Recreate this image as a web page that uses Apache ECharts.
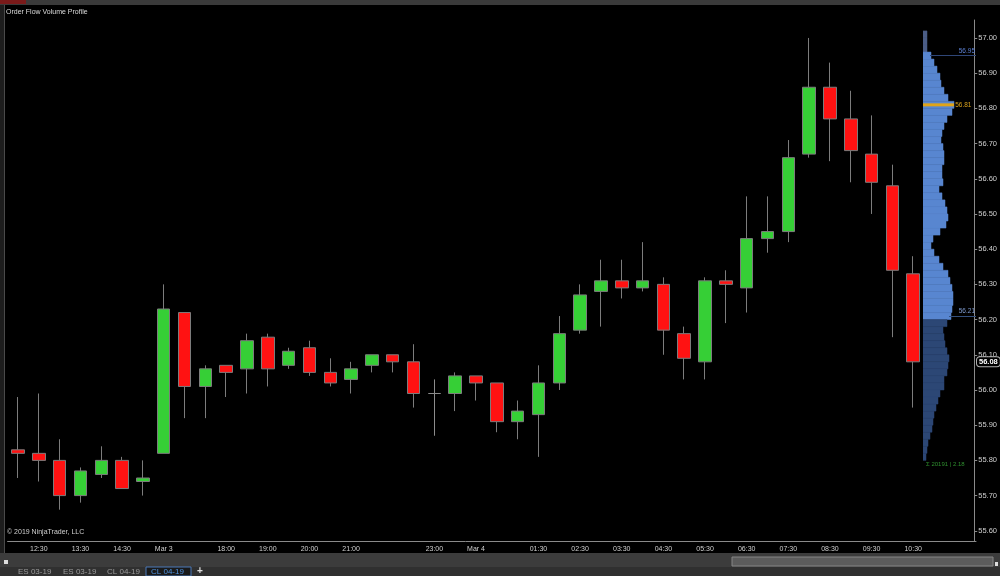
<!DOCTYPE html>
<html>
<head>
<meta charset="utf-8">
<script src="https://cdn.jsdelivr.net/npm/echarts@6/dist/echarts.min.js"></script>
<style>
html,body{margin:0;padding:0;background:#000;}
#chart{width:1000px;height:576px;}
</style>
</head>
<body>
<div id="chart"></div>
<script>
// ---- data ----
const categories = ['12:00','12:30','13:00','13:30','14:00','14:30','15:00','Mar 3','17:00','17:30',
  '18:00','18:30','19:00','19:30','20:00','20:30','21:00','21:30','22:00','22:30',
  '23:00','23:30','Mar 4','00:30','01:00','01:30','02:00','02:30','03:00','03:30',
  '04:00','04:30','05:00','05:30','06:00','06:30','07:00','07:30','08:00','08:30',
  '09:00','09:30','10:00','10:30'];
const opens  = [55.83,55.82,55.80,55.70,55.76,55.80,55.74,55.82,56.22,56.01,
  56.07,56.06,56.15,56.07,56.12,56.05,56.03,56.07,56.10,56.08,
  55.99,55.99,56.04,56.02,55.91,55.93,56.02,56.17,56.28,56.31,
  56.29,56.30,56.16,56.08,56.31,56.29,56.43,56.45,56.67,56.86,
  56.77,56.67,56.58,56.33];
const closes = [55.82,55.80,55.70,55.77,55.80,55.72,55.75,56.23,56.01,56.06,
  56.05,56.14,56.06,56.11,56.05,56.02,56.06,56.10,56.08,55.99,
  55.99,56.04,56.02,55.91,55.94,56.02,56.16,56.27,56.31,56.29,
  56.31,56.17,56.09,56.31,56.30,56.43,56.45,56.66,56.86,56.77,
  56.68,56.59,56.34,56.08];
const lows   = [55.75,55.74,55.66,55.68,55.75,55.72,55.70,55.82,55.92,55.92,
  55.98,55.99,56.01,56.06,56.04,56.01,55.99,56.05,56.05,55.95,
  55.87,55.94,55.97,55.88,55.86,55.81,56.00,56.16,56.18,56.26,
  56.28,56.10,56.03,56.03,56.19,56.22,56.39,56.42,56.66,56.65,
  56.59,56.50,56.15,55.95];
const highs  = [55.98,55.99,55.86,55.78,55.84,55.81,55.80,56.30,56.22,56.07,
  56.07,56.16,56.16,56.12,56.14,56.09,56.08,56.10,56.10,56.13,
  56.03,56.05,56.04,56.02,55.97,56.07,56.21,56.30,56.37,56.37,
  56.42,56.32,56.18,56.32,56.34,56.55,56.55,56.71,57.00,56.93,
  56.85,56.78,56.64,56.38];
const shownLabels = ['12:30','13:30','14:30','Mar 3','18:00','19:00','20:00','21:00','23:00','Mar 4',
  '01:30','02:30','03:30','04:30','05:30','06:30','07:30','08:30','09:30','10:30'];
const extraTicks = ['17:00','00:30'];

const profilePrices = [57.01,56.99,56.97,56.95,56.93,56.91,56.89,56.87,56.85,56.83,
  56.81,56.79,56.77,56.75,56.73,56.71,56.69,56.67,56.65,56.63,
  56.61,56.59,56.57,56.55,56.53,56.51,56.49,56.47,56.45,56.43,
  56.41,56.39,56.37,56.35,56.33,56.31,56.29,56.27,56.25,56.23,
  56.21,56.19,56.17,56.15,56.13,56.11,56.09,56.07,56.05,56.03,
  56.01,55.99,55.97,55.95,55.93,55.91,55.89,55.87,55.85,55.83,55.81];
const profileVolumes = [4,4,4,8,11,14,17,18,21,25,
  31,29,24,21,19,18,20,21,21,19,
  19,20,16,19,22,24,25,23,17,10,
  8,11,16,20,25,27,29,30,30,29,
  28,24,20,21,22,24,26,25,24,21,
  21,17,15,13,11,10,9,7,5,4,3];
const valueAreaHigh = 56.95;
const pocPrice = 56.81;
const valueAreaLow = 56.21;
const lastPrice = 56.08;
const profileFooter = 'Σ 20191 | 2.18';

// ---- chart ----
const yMin = 55.571, yMax = 57.051;
const FONT = 'Liberation Sans, Arial, sans-serif';
const chart = echarts.init(document.getElementById('chart'), null, {renderer:'canvas'});
const candleData = categories.map((c, i) => [opens[i], closes[i], lows[i], highs[i]]);
const profileData = profilePrices.map((p, i) => [profileVolumes[i], p]);
const NOLINE = {color: 'rgba(0,0,0,0)', width: 0};

function profileColor(p) {
  if (p > valueAreaHigh + 1e-9) return '#4b5d86';
  if (p >= valueAreaLow - 1e-9) return '#5886d0';
  return '#2c4775';
}

const option = {
  backgroundColor: '#000',
  animation: false,
  grid: [
    {left: 7.6, right: 74.6, top: 20, bottom: 35},
    {left: 923, right: 24, top: 20, bottom: 35}
  ],
  xAxis: [
    {
      type: 'category', gridIndex: 0, data: categories, boundaryGap: true,
      axisLine: {lineStyle: {color: '#8a8a8a', width: 1}},
      axisTick: {alignWithLabel: true, length: 3, lineStyle: {color: '#8a8a8a'},
        interval: (i, v) => shownLabels.includes(v) || extraTicks.includes(v)},
      axisLabel: {interval: (i, v) => shownLabels.includes(v), color: '#cfcfcf', fontSize: 7,
        fontFamily: FONT, margin: 5},
      splitLine: {show: false}
    },
    {
      type: 'value', gridIndex: 1, min: 0, max: 53,
      axisLine: {show: true, onZero: false, lineStyle: {color: '#8a8a8a', width: 1}},
      axisTick: {show: false}, axisLabel: {show: false}, splitLine: {show: false}
    }
  ],
  yAxis: [
    {
      type: 'value', gridIndex: 0, position: 'right', offset: 50.6,
      min: yMin, max: yMax, minInterval: 0.1, maxInterval: 0.1,
      axisLine: {show: true, lineStyle: {color: '#8a8a8a', width: 1}},
      axisTick: {show: true, length: 3, lineStyle: {color: '#8a8a8a'}},
      axisLabel: {color: '#cfcfcf', fontSize: 7.5, fontFamily: FONT, margin: 4,
        showMinLabel: false, showMaxLabel: false,
        formatter: v => v.toFixed(2)},
      splitLine: {show: false}
    },
    {
      type: 'value', gridIndex: 1, min: yMin, max: yMax, show: false
    }
  ],
  series: [
    {
      type: 'candlestick', xAxisIndex: 0, yAxisIndex: 0,
      data: candleData, barWidth: 13,
      itemStyle: {
        color: '#36cf36', color0: '#ff1212',
        borderColor: '#7c7c7c', borderColor0: '#7c7c7c', borderColorDoji: '#8c8c8c',
        borderWidth: 1
      }
    },
    {
      type: 'custom', xAxisIndex: 1, yAxisIndex: 1,
      data: profileData, encode: {x: 0, y: 1},
      clip: true,
      renderItem: function (params, api) {
        const v = api.value(0), p = api.value(1);
        const a = api.coord([0, p + 0.01]);
        const b = api.coord([v, p - 0.01]);
        const col = profileColor(p);
        const rect = {type: 'rect', shape: {x: a[0], y: a[1], width: b[0] - a[0], height: b[1] - a[1]},
          style: {fill: col, stroke: col, lineWidth: 0.5}};
        if (Math.abs(p - pocPrice) < 1e-6) {
          const c = api.coord([v, p]);
          return {type: 'group', children: [rect,
            {type: 'rect', shape: {x: a[0], y: c[1] - 1.5, width: b[0] - a[0], height: 3},
              style: {fill: '#e0a418'}}]};
        }
        return rect;
      }
    },
    {
      type: 'scatter', xAxisIndex: 1, yAxisIndex: 1, data: [],
      markLine: {
        symbol: 'none', silent: true, animation: false,
        data: [
          [{coord: [7, valueAreaHigh], lineStyle: {color: '#2f4677', width: 1, type: 'solid'},
            label: {show: true, position: 'insideEndTop', formatter: valueAreaHigh.toFixed(2),
              color: '#5c80d4', fontSize: 6.5, fontFamily: FONT, distance: 1}},
           {coord: [53, valueAreaHigh]}],
          [{coord: [30, pocPrice], lineStyle: NOLINE,
            label: {show: true, position: 'end', formatter: pocPrice.toFixed(2),
              color: '#d9a21c', fontSize: 6.5, fontFamily: FONT, distance: 2}},
           {coord: [30.2, pocPrice]}],
          [{coord: [26, valueAreaLow], lineStyle: {color: '#34507e', width: 1, type: 'solid'},
            label: {show: true, position: 'insideEndTop', formatter: valueAreaLow.toFixed(2),
              color: '#7e9bd0', fontSize: 6.5, fontFamily: FONT, distance: 1}},
           {coord: [53, valueAreaLow]}],
          [{coord: [0, lastPrice], lineStyle: NOLINE,
            label: {show: true, position: 'end', formatter: lastPrice.toFixed(2),
              color: '#ffffff', fontSize: 7.5, fontWeight: 'bold', fontFamily: FONT, distance: 1,
              backgroundColor: '#000', borderColor: '#b0b0b0', borderWidth: 1, borderRadius: 3,
              padding: [1, 2, 0, 2]}},
           {coord: [53, lastPrice]}]
        ]
      }
    }
  ],
  graphic: [
    {type: 'rect', shape: {x: 0, y: 0, width: 1000, height: 5}, style: {fill: '#3a3a3a'}, z: 100},
    {type: 'rect', shape: {x: 0, y: 0, width: 26, height: 4}, style: {fill: '#7a1a1a'}, z: 101},
    {type: 'rect', shape: {x: 0, y: 5, width: 4, height: 548}, style: {fill: '#1d1d1d'}, z: 100},
    {type: 'line', shape: {x1: 4.5, y1: 5, x2: 4.5, y2: 553}, style: {stroke: '#4a4a4a', lineWidth: 1}, z: 101},
    {type: 'rect', shape: {x: 0, y: 553, width: 1000, height: 23}, style: {fill: '#3c3c3c'}, z: 100},
    {type: 'rect', shape: {x: 0, y: 567, width: 1000, height: 9}, style: {fill: '#303030'}, z: 100},
    {type: 'rect', shape: {x: 732, y: 557, width: 261, height: 9}, style: {fill: '#5c5c5c', stroke: '#858585', lineWidth: 1}, z: 101},
    {type: 'rect', shape: {x: 4, y: 560, width: 4, height: 4}, style: {fill: '#dddddd'}, z: 101},
    {type: 'rect', shape: {x: 995, y: 562, width: 3, height: 4}, style: {fill: '#dddddd'}, z: 101},
    {type: 'rect', shape: {x: 146, y: 567, width: 45, height: 9}, style: {fill: '#1a1a1a', stroke: '#4a78b8', lineWidth: 1}, z: 101},
    {type: 'text', x: 18, y: 568, style: {text: 'ES 03-19', fill: '#9a9a9a', font: '8px ' + FONT}, z: 102},
    {type: 'text', x: 63, y: 568, style: {text: 'ES 03-19', fill: '#9a9a9a', font: '8px ' + FONT}, z: 102},
    {type: 'text', x: 107, y: 568, style: {text: 'CL 04-19', fill: '#9a9a9a', font: '8px ' + FONT}, z: 102},
    {type: 'text', x: 151, y: 568, style: {text: 'CL 04-19', fill: '#4f93e0', font: '8px ' + FONT}, z: 102},
    {type: 'text', x: 197, y: 566, style: {text: '+', fill: '#e0e0e0', font: 'bold 10px ' + FONT}, z: 102},
    {type: 'text', x: 6, y: 9, style: {text: 'Order Flow Volume Profile', fill: '#dcdcdc', font: '7px ' + FONT}, z: 102},
    {type: 'text', x: 7, y: 529, style: {text: '© 2019 NinjaTrader, LLC', fill: '#cfcfcf', font: '7px ' + FONT}, z: 102},
    {type: 'text', x: 926, y: 461, style: {text: profileFooter, fill: '#2f8f2f', font: '6px ' + FONT}, z: 102}
  ]
};
chart.setOption(option);
</script>
</body>
</html>
